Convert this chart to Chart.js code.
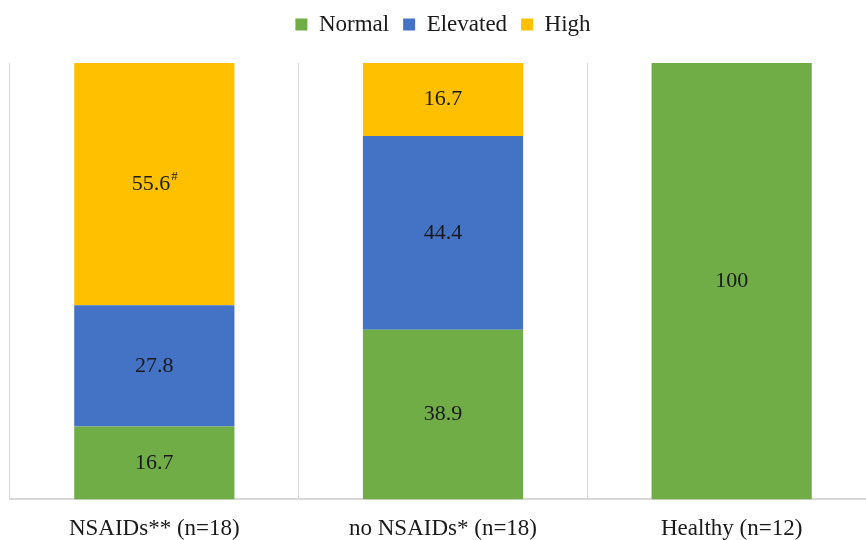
<!DOCTYPE html>
<html>
<head>
<meta charset="utf-8">
<script src="https://cdn.jsdelivr.net/npm/chart.js@4/dist/chart.umd.min.js"></script>
<style>
  html, body { margin: 0; padding: 0; background: #fff; overflow: hidden; width: 866px; height: 540px; }
  #wrap { width: 876px; height: 560px; position: absolute; left: 0; top: -1px; }
</style>
</head>
<body>
<div id="wrap"><canvas id="c"></canvas></div>
<script>
const categories = ['NSAIDs** (n=18)', 'no NSAIDs* (n=18)', 'Healthy (n=12)'];
const normalValues = [16.7, 38.9, 100];
const elevatedValues = [27.8, 44.4, 0];
const highValues = [55.6, 16.7, 0];
const seriesNames = ['Normal', 'Elevated', 'High'];
const seriesColors = ['#70AD47', '#4472C4', '#FFC000'];
// superscript markers for labels [series][category]
const labelMarks = [['', '', ''], ['', '', ''], ['#', '', '']];

const FONT = "'Liberation Serif', 'Times New Roman', serif";

const legendHeightPlugin = {
  id: 'legendHeight',
  beforeInit(chart) {
    const lg = chart.legend;
    if (lg) {
      const orig = lg.fit.bind(lg);
      lg.fit = function () { orig(); this.height = 64; };
    }
  }
};

const labelPlugin = {
  id: 'barLabels',
  afterDatasetsDraw(chart) {
    const ctx = chart.ctx;
    ctx.save();
    ctx.fillStyle = '#1a1a1a';
    ctx.textBaseline = 'middle';
    chart.data.datasets.forEach((ds, di) => {
      const meta = chart.getDatasetMeta(di);
      meta.data.forEach((bar, i) => {
        const v = ds.data[i];
        if (!v) return;
        const y = (bar.y + bar.base) / 2;
        const txt = String(v);
        const mark = labelMarks[di][i];
        ctx.font = '22px ' + FONT;
        const w = ctx.measureText(txt).width;
        ctx.font = '13px ' + FONT;
        const mw = mark ? ctx.measureText(mark).width : 0;
        const start = bar.x - (w + mw) / 2;
        ctx.font = '22px ' + FONT;
        ctx.textAlign = 'left';
        ctx.fillText(txt, start, y);
        if (mark) {
          ctx.font = '13px ' + FONT;
          ctx.fillText(mark, start + w + 1, y - 7);
        }
      });
    });
    ctx.restore();
  }
};

new Chart(document.getElementById('c'), {
  type: 'bar',
  data: {
    labels: categories,
    datasets: [
      { label: seriesNames[0], data: normalValues, backgroundColor: seriesColors[0] },
      { label: seriesNames[1], data: elevatedValues, backgroundColor: seriesColors[1] },
      { label: seriesNames[2], data: highValues, backgroundColor: seriesColors[2] }
    ]
  },
  options: {
    responsive: true,
    maintainAspectRatio: false,
    animation: false,
    layout: { padding: { left: 10, right: 0, top: 0, bottom: 0 } },
    datasets: { bar: { categoryPercentage: 1.0, barPercentage: 0.555 } },
    plugins: {
      legend: {
        position: 'top',
        labels: {
          font: { family: FONT, size: 23 },
          color: '#1a1a1a',
          boxWidth: 12,
          boxHeight: 12,
          padding: 14
        }
      },
      tooltip: { enabled: false }
    },
    scales: {
      x: {
        stacked: true,
        grid: { display: true, color: '#d9d9d9', lineWidth: 1, drawTicks: false, offset: true },
        border: { display: true, color: '#d9d9d9', width: 2 },
        ticks: { font: { family: FONT, size: 23 }, color: '#1a1a1a', padding: 16 }
      },
      y: {
        stacked: true,
        min: 0,
        max: 100,
        display: false
      }
    }
  },
  plugins: [legendHeightPlugin, labelPlugin]
});
</script>
</body>
</html>
